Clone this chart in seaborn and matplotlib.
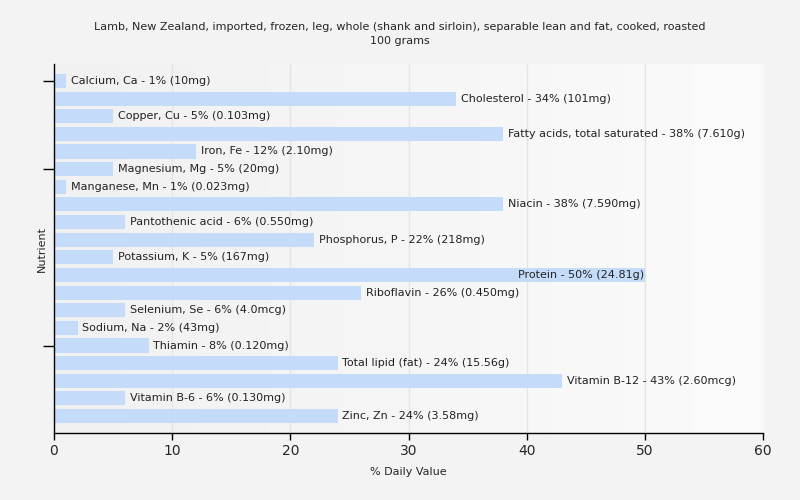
import matplotlib
matplotlib.use("Agg")
import matplotlib.pyplot as plt
import seaborn as sns
import numpy as np
import pandas as pd
from matplotlib.colors import LinearSegmentedColormap

nutrients = ["Calcium, Ca", "Cholesterol", "Copper, Cu", "Fatty acids, total saturated",
             "Iron, Fe", "Magnesium, Mg", "Manganese, Mn", "Niacin", "Pantothenic acid",
             "Phosphorus, P", "Potassium, K", "Protein", "Riboflavin", "Selenium, Se",
             "Sodium, Na", "Thiamin", "Total lipid (fat)", "Vitamin B-12", "Vitamin B-6",
             "Zinc, Zn"]
values = [1, 34, 5, 38, 12, 5, 1, 38, 6, 22, 5, 50, 26, 6, 2, 8, 24, 43, 6, 24]
amounts = ["10mg", "101mg", "0.103mg", "7.610g", "2.10mg", "20mg", "0.023mg", "7.590mg",
           "0.550mg", "218mg", "167mg", "24.81g", "0.450mg", "4.0mcg", "43mg", "0.120mg",
           "15.56g", "2.60mcg", "0.130mg", "3.58mg"]

df = pd.DataFrame({"Nutrient": nutrients, "Value": values})

sns.set_style("white")
plt.rcParams['font.family'] = ['DejaVu Sans']

fig = plt.figure(figsize=(8, 5), dpi=100, facecolor="#f3f3f3")
ax = fig.add_axes([0.0675, 0.134, 0.8863, 0.738])

grad = np.linspace(0, 1, 256).reshape(1, -1)
cmap = LinearSegmentedColormap.from_list("g", ["#f1f1f1", "#fbfbfb"])
ax.imshow(grad, extent=[0, 1, 0, 1], transform=ax.transAxes, aspect="auto",
          cmap=cmap, zorder=0)

sns.barplot(data=df, x="Value", y="Nutrient", orient="h", color="#c4dcfa",
            saturation=1, width=0.8, linewidth=0, edgecolor="none", ax=ax, zorder=2)

ax.set_xlim(0, 60)
ax.set_ylim(19.96, -0.96)
ax.set_xticks([0, 10, 20, 30, 40, 50, 60])
ax.grid(axis="x", color="#e4e4e4", linewidth=1, zorder=1)
ax.grid(axis="y", visible=False)
ax.set_axisbelow(True)
ax.set_yticks([0, 5, 15])
ax.set_yticklabels([])
ax.tick_params(axis="y", left=True, length=8, width=1, color="black", direction="out")
ax.tick_params(axis="x", bottom=True, length=5, width=1, color="black", direction="out",
               labelsize=10, pad=3)
for s in ["top", "right"]:
    ax.spines[s].set_visible(False)
for s in ["left", "bottom"]:
    ax.spines[s].set_color("black")
    ax.spines[s].set_linewidth(1)

for i, (n, v, a) in enumerate(zip(nutrients, values, amounts)):
    label = f"{n} - {v}% ({a})"
    if v >= 50:
        ax.text(v - 0.1, i, label, ha="right", va="center", fontsize=8, color="#222222", zorder=3)
    else:
        ax.text(v + 0.4, i, label, ha="left", va="center", fontsize=8, color="#222222", zorder=3)

ax.set_xlabel("% Daily Value", fontsize=8)
ax.set_ylabel("Nutrient", fontsize=8)
ax.xaxis.set_label_coords(0.5, -0.106)
ax.yaxis.set_label_coords(-0.017, 0.5)
ax.xaxis.label.set_va("center")
ax.yaxis.label.set_va("center")

fig.text(0.5, 0.955, "Lamb, New Zealand, imported, frozen, leg, whole (shank and sirloin), separable lean and fat, cooked, roasted\n100 grams",
         ha="center", va="top", fontsize=8, linespacing=1.4)

fig.savefig("out.png", dpi=100, facecolor=fig.get_facecolor())
